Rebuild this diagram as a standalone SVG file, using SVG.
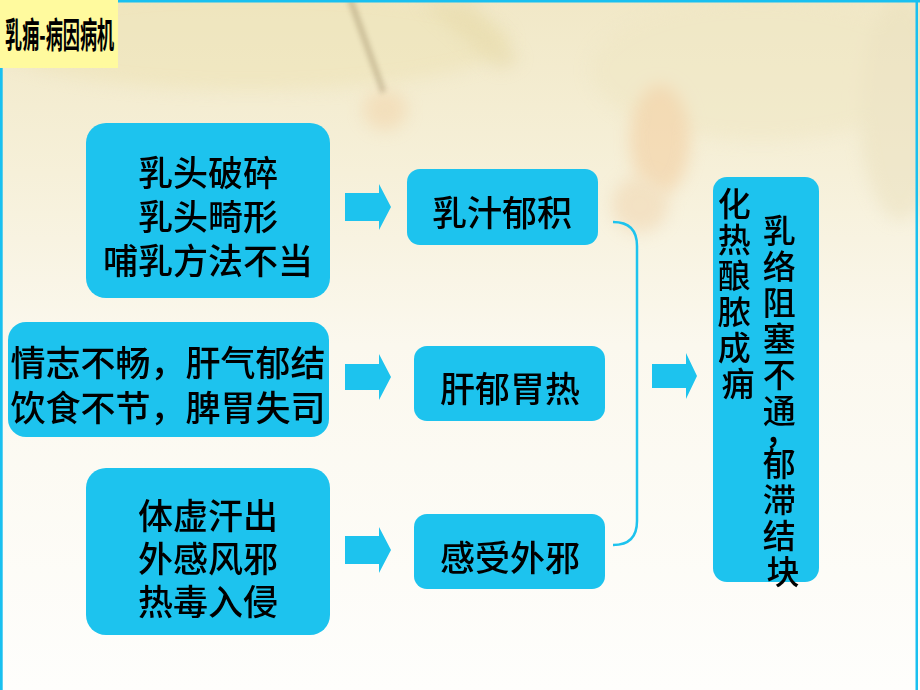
<svg xmlns="http://www.w3.org/2000/svg" width="920" height="690" viewBox="0 0 920 690">
  <defs>
    <linearGradient id="bg" x1="0" y1="0" x2="0" y2="1">
      <stop offset="0" stop-color="#F1E8C7"/>
      <stop offset="0.25" stop-color="#F6F0D9"/>
      <stop offset="0.5" stop-color="#FBF8EE"/>
      <stop offset="1" stop-color="#FEFEFC"/>
    </linearGradient>
    <filter id="blur8" x="-50%" y="-50%" width="200%" height="200%">
      <feGaussianBlur stdDeviation="8"/>
    </filter>
    <filter id="blur3" x="-50%" y="-50%" width="200%" height="200%">
      <feGaussianBlur stdDeviation="2.5"/>
    </filter>
    <style>
      .box { fill: #1DC3EE; }
      .arrow { fill: #1DC3EE; }
      .txt { font-family: "Noto Sans CJK SC", "Noto Sans", sans-serif; font-size: 35px; font-weight: 500; fill: #000; text-anchor: middle; dominant-baseline: central; }
      .vtxt { font-family: "Noto Sans CJK SC", "Noto Sans", sans-serif; font-size: 33px; font-weight: 500; fill: #000; text-anchor: middle; dominant-baseline: central; }
      .title { font-family: "Noto Sans CJK SC", "Noto Sans", sans-serif; font-size: 35px; font-weight: bold; fill: #000; }
      .frame { fill: #19C0F0; }
    </style>
  </defs>

  <!-- background -->
  <rect x="0" y="0" width="920" height="690" fill="url(#bg)"/>
  <g opacity="0.5">
    <ellipse cx="250" cy="40" rx="260" ry="50" fill="#EDE2B4" filter="url(#blur8)"/>
    <ellipse cx="760" cy="70" rx="170" ry="70" fill="#EFE6C3" filter="url(#blur8)"/>
    <ellipse cx="900" cy="110" rx="40" ry="110" fill="#E9DFBC" filter="url(#blur8)"/>
    <ellipse cx="660" cy="140" rx="30" ry="55" fill="#F2C896" filter="url(#blur8)"/>
    <ellipse cx="640" cy="205" rx="28" ry="28" fill="#EFD2AA" filter="url(#blur8)"/>
    <ellipse cx="385" cy="110" rx="22" ry="20" fill="#F2D2A6" filter="url(#blur8)"/>
  </g>
  <path d="M347,0 L354,0 L386,90 L381,94 Z" fill="#8E7A55" opacity="0.35" filter="url(#blur3)"/>
  <path d="M420,0 L470,0 L520,60 L500,70 Z" fill="#E6D9A8" opacity="0.5" filter="url(#blur8)"/>

  <!-- frame -->
  <rect class="frame" x="118" y="0" width="802" height="2.5"/>
  <rect class="frame" x="0" y="68" width="2.7" height="622"/>
  <rect class="frame" x="915.5" y="0" width="2.5" height="690"/>

  <!-- title -->
  <g id="title">
    <rect x="0" y="0" width="118" height="68" fill="#FFFA9E"/>
    <text class="title" transform="translate(5,48) scale(0.49,1)">乳痈-病因病机</text>
  </g>

  <!-- connectors -->
  <g id="connectors">
    <path class="arrow" d="M345,193 H379 V184 L391,207 L379,230 V221 H345 Z"/>
    <path class="arrow" d="M345,364 H379 V354 L391,377 L379,400 V390 H345 Z"/>
    <path class="arrow" d="M345,536 H379 V527 L391,550 L379,573 V564 H345 Z"/>
    <path d="M613,222 Q637,222 637,246 V521 Q637,545 613,545" fill="none" stroke="#1DC3EE" stroke-width="2.5"/>
    <path class="arrow" d="M652,364 H686 V353 L697,376 L686,399 V388 H652 Z"/>
  </g>

  <!-- left nodes -->
  <g id="cause1">
    <rect class="box" x="86" y="123" width="244" height="175" rx="20"/>
    <text class="txt" x="208" y="170">乳头破碎</text>
    <text class="txt" x="208" y="214">乳头畸形</text>
    <text class="txt" x="208" y="258">哺乳方法不当</text>
  </g>
  <g id="cause2">
    <rect class="box" x="8" y="322" width="321" height="115" rx="18"/>
    <text class="txt" x="168" y="360">情志不畅，肝气郁结</text>
    <text class="txt" x="168" y="405">饮食不节，脾胃失司</text>
  </g>
  <g id="cause3">
    <rect class="box" x="86" y="468" width="244" height="167" rx="20"/>
    <text class="txt" x="208" y="513">体虚汗出</text>
    <text class="txt" x="208" y="556">外感风邪</text>
    <text class="txt" x="208" y="599">热毒入侵</text>
  </g>

  <!-- middle nodes -->
  <g id="mid1">
    <rect class="box" x="407" y="169" width="191" height="76" rx="13"/>
    <text class="txt" x="502" y="210">乳汁郁积</text>
  </g>
  <g id="mid2">
    <rect class="box" x="414" y="346" width="191" height="75" rx="13"/>
    <text class="txt" x="510" y="386">肝郁胃热</text>
  </g>
  <g id="mid3">
    <rect class="box" x="414" y="514" width="191" height="75" rx="13"/>
    <text class="txt" x="510" y="555">感受外邪</text>
  </g>

  <!-- right node -->
  <g id="result">
    <rect class="box" x="713" y="177" width="106" height="405" rx="14"/>
    <text class="vtxt">
      <tspan x="738" y="202">化</tspan>
      <tspan x="738" y="238">热</tspan>
      <tspan x="738" y="274">酿</tspan>
      <tspan x="738" y="310">脓</tspan>
      <tspan x="738" y="346">成</tspan>
      <tspan x="738" y="382">痈</tspan>
    </text>
    <text class="vtxt">
      <tspan x="783" y="229">乳</tspan>
      <tspan x="783" y="265">络</tspan>
      <tspan x="783" y="301">阻</tspan>
      <tspan x="783" y="337">塞</tspan>
      <tspan x="783" y="373">不</tspan>
      <tspan x="783" y="409">通</tspan>
      <tspan x="785" y="430">，</tspan>
      <tspan x="783" y="462">郁</tspan>
      <tspan x="783" y="498">滞</tspan>
      <tspan x="783" y="534">结</tspan>
      <tspan x="783" y="570">块</tspan>
    </text>
  </g>
</svg>
